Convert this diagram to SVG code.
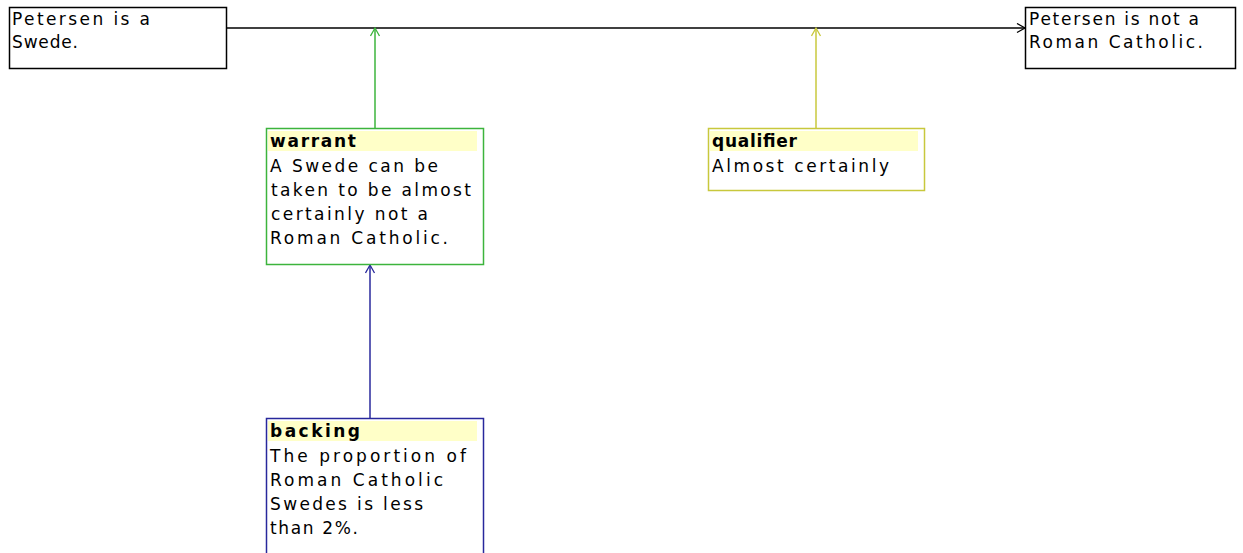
<svg xmlns="http://www.w3.org/2000/svg" width="1243" height="553" viewBox="0 0 1243 553">
<style>
.bg{fill:#ffffff}
.box{fill:#ffffff;stroke-width:1.5}
.plain{stroke:#000000}
.green{stroke:#3cb43c}
.yellow{stroke:#c8c83c}
.blue{stroke:#28289c}
.hdr{fill:#ffffc8}
text{font-family:"DejaVu Sans","Liberation Sans",sans-serif;font-size:17px;fill:#000000}
.b{font-weight:bold;font-size:17px}
.edge{fill:none;stroke-width:1.5}
</style>
<defs>
<marker id="ab" markerUnits="userSpaceOnUse" markerWidth="12" markerHeight="12" refX="9" refY="5" orient="auto" viewBox="0 0 12 12">
<path d="M1,0.5 L9,5 L1,9.5" fill="none" stroke="#000000" stroke-width="1.3"/>
</marker>
<marker id="ag" markerUnits="userSpaceOnUse" markerWidth="12" markerHeight="12" refX="9" refY="5" orient="auto" viewBox="0 0 12 12">
<path d="M1,0.5 L9,5 L1,9.5" fill="none" stroke="#3cb43c" stroke-width="1.3"/>
</marker>
<marker id="ay" markerUnits="userSpaceOnUse" markerWidth="12" markerHeight="12" refX="9" refY="5" orient="auto" viewBox="0 0 12 12">
<path d="M1,0.5 L9,5 L1,9.5" fill="none" stroke="#c8c83c" stroke-width="1.3"/>
</marker>
<marker id="au" markerUnits="userSpaceOnUse" markerWidth="12" markerHeight="12" refX="9" refY="5" orient="auto" viewBox="0 0 12 12">
<path d="M1,0.5 L9,5 L1,9.5" fill="none" stroke="#28289c" stroke-width="1.3"/>
</marker>
</defs>
<rect class="bg" x="0" y="0" width="1243" height="553"/>
<g id="connectors">
<path class="edge" d="M227,28 L1025,28" stroke="#000000" marker-end="url(#ab)"/>
<path class="edge" d="M375,128 L375,28" stroke="#3cb43c" marker-end="url(#ag)"/>
<path class="edge" d="M816,128 L816,28" stroke="#c8c83c" marker-end="url(#ay)"/>
<path class="edge" d="M370,418 L370,265" stroke="#28289c" marker-end="url(#au)"/>
</g>
<g id="datum">
<rect class="box plain" x="9.5" y="7.5" width="217" height="61"/>
<text x="12" y="25" textLength="138" lengthAdjust="spacing">Petersen is a</text>
<text x="12" y="48" textLength="66" lengthAdjust="spacing">Swede.</text>
</g>
<g id="claim">
<rect class="box plain" x="1025.5" y="7.5" width="210" height="61"/>
<text x="1029" y="25" textLength="170" lengthAdjust="spacing">Petersen is not a</text>
<text x="1029" y="48" textLength="174" lengthAdjust="spacing">Roman Catholic.</text>
</g>
<g id="warrant">
<rect class="box green" x="266.5" y="128.5" width="217" height="136"/>
<rect class="hdr" x="268" y="131" width="209" height="20"/>
<text class="b" x="270" y="147" textLength="86" lengthAdjust="spacing">warrant</text>
<text x="270" y="172" textLength="168" lengthAdjust="spacing">A Swede can be</text>
<text x="271" y="196" textLength="200" lengthAdjust="spacing">taken to be almost</text>
<text x="271" y="220" textLength="157" lengthAdjust="spacing">certainly not a</text>
<text x="270" y="244" textLength="178" lengthAdjust="spacing">Roman Catholic.</text>
</g>
<g id="qualifier">
<rect class="box yellow" x="708.5" y="128.5" width="216" height="62"/>
<rect class="hdr" x="710" y="131" width="208" height="20"/>
<text class="b" x="712" y="147" textLength="85" lengthAdjust="spacing">qualifier</text>
<text x="712" y="172" textLength="177" lengthAdjust="spacing">Almost certainly</text>
</g>
<g id="backing">
<rect class="box blue" x="266.5" y="418.5" width="217" height="140"/>
<rect class="hdr" x="268" y="421" width="209" height="20"/>
<text class="b" x="270" y="437" textLength="90" lengthAdjust="spacing">backing</text>
<text x="270" y="462" textLength="196" lengthAdjust="spacing">The proportion of</text>
<text x="270" y="486" textLength="173" lengthAdjust="spacing">Roman Catholic</text>
<text x="270" y="510" textLength="153" lengthAdjust="spacing">Swedes is less</text>
<text x="270" y="534" textLength="88" lengthAdjust="spacing">than 2%.</text>
</g>
</svg>
